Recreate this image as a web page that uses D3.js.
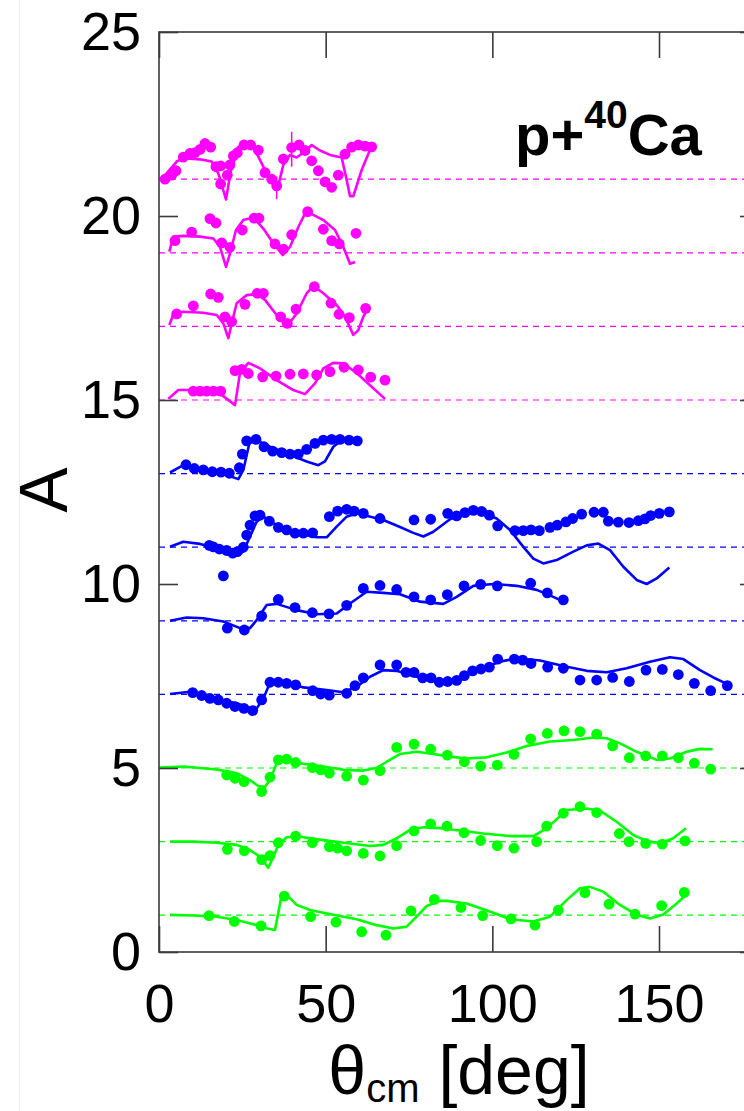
<!DOCTYPE html>
<html>
<head>
<meta charset="utf-8">
<script src="https://cdn.jsdelivr.net/npm/d3@7"></script>
<style>
  body { margin: 0; background: #fff; }
  svg { display: block; font-family: "Liberation Sans", Arial, sans-serif; }
</style>
</head>
<body>
<div id="chart-area"></div>
<script>
// p+40Ca analysing powers, offset by 2 units per energy

const W = 744, H = 1111

// magenta sets
const m1Pts = [[1.8,21.0],[3.8,21.11],[5.1,21.23],[7.3,21.6],[9.3,21.7],[10.8,21.72],[12.3,21.81],[13.8,21.97],[15.5,21.87],[17.1,21.34],[18.5,21.36],[18.5,20.87],[20.5,21.11],[21.3,21.39],[22.3,21.63],[23.5,21.72],[25.5,21.93],[27.5,21.93],[29.8,21.79],[31.8,21.18],[33.8,21.0],[35.3,20.82],[37.3,21.55],[39.8,21.86],[42,21.93],[43.8,21.78],[45.8,21.5],[47.8,21.23],[49.8,20.93],[51.8,20.78],[53.8,21.11],[55.8,21.68],[57.8,21.87],[59.8,21.93],[61.8,21.9],[63.8,21.88]]
const m1Fit = [[0.8,21.0],[5.3,21.48],[7.3,21.57],[12.3,21.54],[15.8,21.48],[17.8,21.16],[20.1,20.45],[21.5,21.2],[23.8,21.88],[25.8,21.97],[28.3,21.88],[31.3,21.34],[33.8,20.98],[35.5,20.72],[37.3,21.39],[39.3,21.66],[41.3,21.59],[43.3,21.72],[45.8,21.93],[48.3,21.78],[51.3,21.66],[54.8,21.59],[56.3,20.98],[57.3,20.54],[58.3,20.54],[60.8,21.25],[63.5,21.84]]
const m1Err = [[35.3,21.07,20.46],[39.8,22.29,21.34]]

const m2Pts = [[4.8,19.33],[9.8,19.56],[15.3,19.93],[17.1,19.81],[18.8,19.27],[21.3,19.15],[25,19.62],[28.5,19.94],[30,19.94],[34.8,19.24],[37.3,19.1],[39.8,19.49],[44.6,20.12],[49.3,19.64],[51.8,19.33],[54.1,19.24],[59.1,19.53]]
const m2Fit = [[3.1,19.03],[4.3,19.44],[7.3,19.46],[12.3,19.44],[16.3,19.39],[18.3,19.16],[20.1,18.62],[21.3,18.98],[23.1,19.62],[25.3,19.89],[28.3,19.96],[31.3,19.66],[34.3,19.26],[37.1,18.94],[39.3,19.16],[41.8,19.7],[44.1,20.12],[46.3,20.03],[49.3,19.89],[52.8,19.62],[55.3,19.16],[57.3,18.7],[58.8,18.75]]

const m3Pts = [[5.3,17.34],[10.3,17.56],[15.5,17.88],[17.8,17.79],[19.8,17.26],[21.8,17.13],[25.8,17.6],[29.5,17.9],[31.3,17.9],[36.5,17.26],[38.5,17.08],[41.1,17.47],[46.6,18.08],[51.6,17.63],[54,17.33],[57.1,17.24],[62,17.49]]
const m3Fit = [[3.1,17.04],[4.5,17.37],[7.3,17.4],[13.3,17.37],[17.3,17.31],[19.3,17.08],[20.8,16.68],[21.8,17.08],[23.3,17.63],[26.3,17.85],[29.3,17.88],[31.8,17.72],[35.3,17.31],[38.3,16.99],[41.3,17.35],[44.3,17.9],[46.3,18.1],[49.3,17.9],[53.3,17.58],[55.8,17.26],[58.3,16.77],[59.8,16.9],[61.3,17.26],[62.1,17.4]]

const m4Pts = [[10.3,15.24],[12.3,15.24],[14.3,15.24],[16.3,15.24],[18.5,15.24],[22.8,15.8],[24.8,15.83],[26.8,15.72],[31.1,15.63],[35.1,15.65],[39.3,15.7],[43.3,15.71],[47.3,15.68],[51.3,15.77],[55.5,15.89],[59.8,15.82],[63.5,15.62],[67.8,15.54]]
const m4Fit = [[2.8,15.03],[5.8,15.27],[9.3,15.27],[18.8,15.14],[22.8,14.86],[24.3,15.73],[26.8,16.01],[30.3,15.86],[35.3,15.54],[40.3,15.27],[43.8,15.16],[46.8,15.45],[49.3,15.86],[52.3,16.01],[55.3,16.0],[59.3,15.73],[63.8,15.36],[67.8,15.03]]

// blue sets
const b1Pts = [[8.1,13.24],[10.6,13.14],[13.3,13.1],[16,13.05],[18.6,13.04],[21.1,13.01],[24.1,13.16],[25,13.53],[26.3,13.89],[29.1,13.93],[31.5,13.73],[34.1,13.61],[36.8,13.57],[39.3,13.53],[41.8,13.53],[44.3,13.66],[46.8,13.82],[49.3,13.91],[51.8,13.93],[54.3,13.93],[57,13.91],[59.5,13.89]]
const b1Fit = [[3.3,13.03],[7.3,13.23],[12.3,13.14],[20.3,12.96],[23.8,12.85],[25.3,13.1],[27.1,13.82],[29.3,13.91],[33.3,13.73],[39.3,13.51],[44.3,13.33],[47.8,13.23],[49.8,13.33],[52.3,13.73],[54.8,13.91],[59.3,13.93]]

const b2Pts = [[15.1,11.05],[16.3,11.01],[18.1,10.95],[19.3,10.22],[20.3,10.91],[22.1,10.84],[23.5,10.88],[25.3,11.0],[26.3,11.33],[27.3,11.6],[28.8,11.85],[30.3,11.87],[33.1,11.71],[35.8,11.54],[38.3,11.47],[40.8,11.38],[43.3,11.38],[46.1,11.39],[51.1,11.83],[53.6,11.98],[56.3,12.03],[58.5,11.98],[61.3,11.92],[66.3,11.78],[76.5,11.74],[81.5,11.76],[86.6,11.92],[89.3,11.85],[91.8,11.94],[94.3,12.0],[96.8,11.97],[99.1,11.87],[101.6,11.58],[106.8,11.45],[109.3,11.45],[111.6,11.47],[114.1,11.45],[117.3,11.54],[119.5,11.6],[122.1,11.69],[124.1,11.78],[126.8,11.9],[130.5,11.95],[133.3,11.95],[134.8,11.71],[137.8,11.68],[141,11.67],[143.8,11.72],[145.8,11.77],[147.5,11.86],[150.1,11.92],[153.1,11.96]]
const b2Fit = [[3.3,11.01],[7.3,11.15],[12.3,11.09],[17.3,10.97],[22.3,10.74],[25.3,10.88],[27.3,11.29],[29.3,11.69],[31.3,11.83],[35.3,11.6],[41.3,11.38],[47.3,11.27],[50.3,11.27],[53.3,11.56],[56.3,11.83],[59.3,11.92],[67.3,11.74],[72.3,11.55],[76.3,11.39],[79.3,11.29],[82.3,11.42],[87.3,11.76],[92.3,11.94],[96.3,11.97],[101.3,11.78],[105.3,11.47],[109.3,11.01],[112.3,10.69],[115.3,10.56],[119.3,10.65],[124.3,10.88],[128.3,11.05],[131.8,11.1],[135.3,10.92],[139.3,10.47],[143.3,10.11],[146.3,10.0],[149.3,10.15],[153.1,10.45]]

const b3Pts = [[20.5,8.8],[25.6,8.75],[30.8,9.13],[35.8,9.58],[40.8,9.36],[46,9.22],[51,9.19],[56.3,9.42],[61.3,9.88],[66.3,9.96],[71.3,9.85],[76.5,9.65],[81.5,9.57],[86.5,9.71],[91.5,9.95],[96.5,9.99],[101.5,9.95],[111.5,10.02],[116.5,9.76],[121.3,9.57]]
const b3Fit = [[3.3,9.0],[8.3,9.09],[13.3,9.07],[19.3,8.98],[24.3,8.8],[27.3,8.8],[29.3,9.02],[32.3,9.43],[35.3,9.46],[41.3,9.29],[47.3,9.18],[53.3,9.2],[57.3,9.47],[62.3,9.79],[67.3,9.76],[72.3,9.72],[78.3,9.52],[85.3,9.46],[89.3,9.65],[94.3,9.95],[100.3,10.0],[107.3,9.95],[113.3,9.84],[118.3,9.65],[121.3,9.52]]

const b4Pts = [[10.1,7.05],[12.8,6.97],[15.3,6.89],[17.8,6.85],[20.3,6.76],[22.8,6.67],[25.5,6.62],[28.1,6.56],[30.8,6.85],[33.3,7.33],[35.8,7.33],[38.3,7.3],[41,7.26],[46.1,7.1],[48.5,7.01],[51.1,6.98],[56.3,7.03],[58.8,7.24],[61.3,7.45],[66.3,7.8],[71.3,7.8],[74.1,7.6],[76.5,7.6],[79.1,7.45],[81.6,7.45],[84.1,7.33],[86.6,7.35],[89.3,7.38],[91.6,7.51],[94.1,7.64],[96.6,7.69],[99.1,7.74],[101.6,7.96],[106.6,7.96],[109.1,7.93],[111.6,7.84],[116.6,7.74],[121.3,7.71],[126.3,7.39],[131.3,7.39],[136.1,7.46],[141.1,7.35],[146.1,7.66],[151,7.68],[155.8,7.54],[160.6,7.3],[165.5,7.1],[170.5,7.24]]
const b4Fit = [[3.3,7.01],[9.3,7.07],[17.3,6.87],[23.3,6.76],[27.8,6.62],[29.3,6.62],[31.3,6.89],[32.8,7.21],[34.3,7.35],[39.3,7.3],[43.3,7.19],[50.3,7.12],[55.3,7.06],[59.3,7.21],[63.3,7.48],[67.3,7.66],[71.3,7.64],[77.3,7.48],[83.3,7.35],[87.3,7.32],[92.3,7.53],[97.3,7.71],[102.3,7.89],[107.3,7.98],[114.3,7.92],[121.3,7.77],[128.3,7.64],[134.3,7.6],[140.3,7.71],[147.3,7.89],[153.3,8.01],[157.3,7.96],[162.3,7.66],[166.3,7.46],[170.5,7.28]]

// green sets
const g1Pts = [[20.3,4.81],[22.8,4.72],[25.5,4.63],[30.8,4.36],[33.3,4.75],[35.8,5.22],[38.3,5.24],[41,5.15],[46,5.01],[48.5,4.95],[51.1,4.86],[56.3,4.78],[61.3,4.67],[66.3,4.93],[71.3,5.56],[76.5,5.65],[81.5,5.51],[86.5,5.35],[91.6,5.17],[96.5,5.05],[101.5,5.08],[106.5,5.37],[111.5,5.79],[116.5,5.94],[121.5,6.01],[126.3,5.99],[131.3,5.92],[136.1,5.6],[141.1,5.28],[146,5.33],[151,5.33],[155.8,5.28],[160.6,5.13],[165.5,4.97]]
const g1Fit = [[0.3,5.01],[7.3,5.04],[17.3,4.96],[23.3,4.86],[27.3,4.67],[29.8,4.51],[31.8,4.49],[33.3,4.67],[35.3,5.13],[37.3,5.2],[42.3,5.13],[49.3,5.04],[55.3,4.95],[61.3,4.93],[65.3,5.0],[68.3,5.17],[72.3,5.38],[77.3,5.44],[82.3,5.38],[87.3,5.31],[92.3,5.26],[98.3,5.29],[104.3,5.42],[110.3,5.6],[117.3,5.72],[124.3,5.76],[130.3,5.83],[134.3,5.81],[138.3,5.67],[143.3,5.44],[149.3,5.22],[153.3,5.26],[158.3,5.44],[162.3,5.52],[166.1,5.51]]

const g2Pts = [[20.5,2.79],[25.6,2.75],[30.8,2.51],[33.3,2.62],[35.8,2.97],[41,3.15],[46,2.97],[51.1,2.86],[53.6,2.82],[56.3,2.75],[61.3,2.68],[66.3,2.61],[71.3,2.89],[76.5,3.29],[81.5,3.48],[86.4,3.42],[91.5,3.24],[96.5,3.03],[101.5,2.89],[106.5,2.82],[113.3,3.0],[116.3,3.42],[121.3,3.77],[126.3,3.95],[131.3,3.79],[138.1,3.22],[141,3.0],[146,2.95],[151,2.93],[157.8,3.02]]
const g2Fit = [[3.3,3.0],[10.3,3.0],[17.3,2.97],[23.3,2.91],[27.3,2.77],[30.3,2.59],[32.8,2.29],[34.3,2.59],[35.8,2.91],[38.3,3.12],[42.3,3.13],[49.3,3.04],[57.3,2.95],[63.3,2.88],[67.3,2.91],[71.3,3.09],[75.3,3.32],[79.3,3.39],[85.3,3.36],[88.3,3.32],[97.3,3.22],[105.3,3.15],[112.3,3.15],[116.3,3.36],[122.3,3.86],[128.3,3.9],[132.3,3.84],[137.3,3.54],[142.3,3.18],[146.3,3.02],[150.3,2.95],[154.3,3.09],[158.1,3.36]]

const g3Pts = [[15,0.99],[22.6,0.83],[30.6,0.71],[37.6,1.52],[45.5,0.96],[53.1,0.81],[60.8,0.55],[68.1,0.46],[75.6,1.12],[82.6,1.43],[90.6,1.21],[97.1,0.99],[105.6,0.9],[112.8,0.73],[119.8,1.14],[127.8,1.61],[135,1.3],[142.8,1.03],[150.8,1.26],[157.6,1.62]]
const g3Fit = [[3.3,1.01],[10.3,0.99],[17.3,0.96],[23.3,0.87],[29.3,0.73],[32.5,0.64],[34.8,0.6],[36.8,1.55],[38.3,1.55],[41.3,1.28],[45.3,1.14],[52.3,1.01],[59.3,0.89],[65.3,0.73],[70.3,0.64],[74.3,0.69],[77.3,0.96],[80.3,1.25],[84.3,1.39],[86.3,1.39],[92.3,1.32],[99.3,1.1],[105.3,0.89],[112.3,0.83],[117.3,0.96],[122.3,1.41],[126.3,1.73],[129.3,1.77],[133.3,1.64],[138.3,1.28],[143.3,1.01],[147.3,0.91],[151.3,1.02],[155.3,1.32],[158.1,1.55]]

const xTicks = [0, 50, 100, 150]
const yTicks = [0, 5, 10, 15, 20, 25]

const MAGENTA = "#ff00ff", BLUE = "#0000ff", GREEN = "#00ff00"

const series = [
  { pts: m1Pts, fit: m1Fit, base: 21, color: MAGENTA },
  { pts: m2Pts, fit: m2Fit, base: 19, color: MAGENTA },
  { pts: m3Pts, fit: m3Fit, base: 17, color: MAGENTA },
  { pts: m4Pts, fit: m4Fit, base: 15, color: MAGENTA },
  { pts: b1Pts, fit: b1Fit, base: 13, color: BLUE },
  { pts: b2Pts, fit: b2Fit, base: 11, color: BLUE },
  { pts: b3Pts, fit: b3Fit, base: 9, color: BLUE },
  { pts: b4Pts, fit: b4Fit, base: 7, color: BLUE },
  { pts: g1Pts, fit: g1Fit, base: 5, color: GREEN },
  { pts: g2Pts, fit: g2Fit, base: 3, color: GREEN },
  { pts: g3Pts, fit: g3Fit, base: 1, color: GREEN }
]

const svg = d3.select("#chart-area").append("svg")
  .attr("width", W)
  .attr("height", H)

// faint page border at the left
svg.append("line")
  .attr("x1", 19.5).attr("x2", 19.5)
  .attr("y1", 0).attr("y2", H)
  .attr("stroke", "#ececec")
  .attr("stroke-width", 1)

const x = d3.scaleLinear().domain([0, 180]).range([159, 759])
const y = d3.scaleLinear().domain([0, 25]).range([952, 32])

svg.append("clipPath").attr("id", "plot")
  .append("rect")
  .attr("x", x(0)).attr("y", y(25))
  .attr("width", x(180) - x(0)).attr("height", y(0) - y(25))

const g = svg.append("g").attr("clip-path", "url(#plot)")

// dashed zero lines
g.selectAll(".base")
  .data(series)
  .enter().append("line")
    .attr("class", "base")
    .attr("x1", x(0)).attr("x2", x(180))
    .attr("y1", d => y(d.base)).attr("y2", d => y(d.base))
    .attr("stroke", d => d.color)
    .attr("stroke-width", 1.2)
    .attr("stroke-dasharray", "6,5")

const line = d3.line()
  .x(d => x(d[0]))
  .y(d => y(d[1]))

g.selectAll(".fit")
  .data(series)
  .enter().append("path")
    .attr("class", "fit")
    .attr("d", d => line(d.fit))
    .attr("fill", "none")
    .attr("stroke", d => d.color)
    .attr("stroke-width", 2.6)
    .attr("stroke-linejoin", "round")

// error bars on the top set
g.selectAll(".err")
  .data(m1Err)
  .enter().append("line")
    .attr("x1", d => x(d[0])).attr("x2", d => x(d[0]))
    .attr("y1", d => y(d[1])).attr("y2", d => y(d[2]))
    .attr("stroke", MAGENTA)
    .attr("stroke-width", 1.5)

series.forEach(s => {
  g.selectAll(null)
    .data(s.pts)
    .enter().append("circle")
      .attr("cx", d => x(d[0]))
      .attr("cy", d => y(d[1]))
      .attr("r", 5.4)
      .attr("fill", s.color)
})

// frame and axes
const AXIS = "#3a3a3a"

svg.append("rect")
  .attr("x", x(0)).attr("y", y(25))
  .attr("width", x(180) - x(0)).attr("height", y(0) - y(25))
  .attr("fill", "none")
  .attr("stroke", AXIS)
  .attr("stroke-width", 1.6)

const xAxis = svg.append("g")
  .attr("transform", `translate(0, ${y(0)})`)
  .call(d3.axisBottom(x).tickValues(xTicks).tickSize(-26).tickPadding(32).tickFormat(d3.format("d")))
const xTop = svg.append("g")
  .attr("transform", `translate(0, ${y(25)})`)
  .call(d3.axisTop(x).tickValues(xTicks).tickSize(-26).tickFormat(""))
const yAxis = svg.append("g")
  .attr("transform", `translate(${x(0)}, 0)`)
  .call(d3.axisLeft(y).tickValues(yTicks).tickSize(-19).tickPadding(18).tickFormat(d3.format("d")))
const yRight = svg.append("g")
  .attr("transform", `translate(${x(180)}, 0)`)
  .call(d3.axisRight(y).tickValues(yTicks).tickSize(-19).tickFormat(""))

;[xAxis, xTop, yAxis, yRight].forEach(a => {
  a.select(".domain").remove()
  a.selectAll("line").attr("stroke", AXIS).attr("stroke-width", 1.6)
  a.selectAll("text")
    .attr("fill", "#000")
    .attr("font-size", "54px")
    .attr("font-family", "'Liberation Sans', Arial, sans-serif")
})

// labels
const xLabel = svg.append("text")
  .attr("x", 459)
  .attr("y", 1094)
  .attr("text-anchor", "middle")
  .attr("font-size", "68px")
xLabel.append("tspan").text("θ")
xLabel.append("tspan").attr("font-size", "40px").attr("dy", 8).text("cm")
xLabel.append("tspan").attr("dy", -8).text(" [deg]")

svg.append("text")
  .attr("transform", "rotate(-90)")
  .attr("x", -490)
  .attr("y", 67)
  .attr("text-anchor", "middle")
  .attr("font-size", "68px")
  .text("A")

const reaction = svg.append("text")
  .attr("x", 515)
  .attr("y", 155)
  .attr("font-size", "58px")
  .attr("font-weight", "bold")
reaction.append("tspan").text("p+")
reaction.append("tspan").attr("font-size", "39px").attr("dy", -27).text("40")
reaction.append("tspan").attr("dy", 27).text("Ca")
</script>
</body>
</html>
